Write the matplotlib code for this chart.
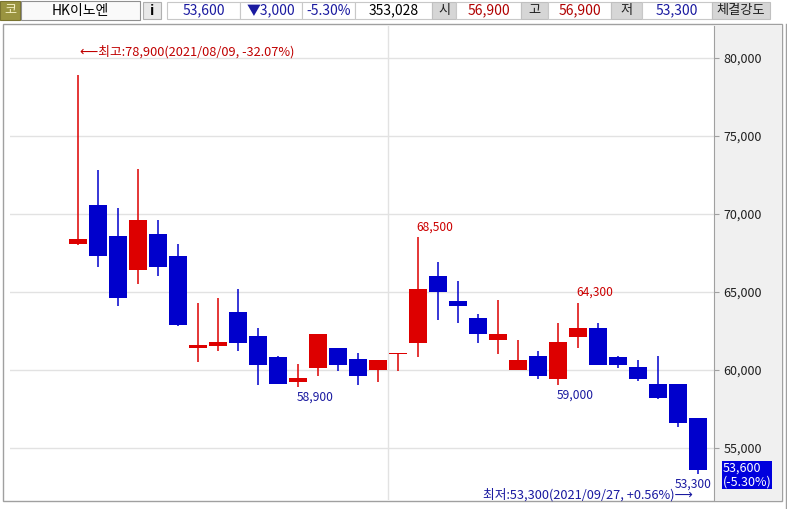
import matplotlib
matplotlib.use('Agg')
import matplotlib.pyplot as plt
from matplotlib.patches import Rectangle
from matplotlib.ticker import FuncFormatter

plt.rcParams['font.family'] = ['Noto Sans CJK KR', 'DejaVu Sans']

# daily candles, HK이노엔, 2021/08/09 - 2021/09/27
dates = ['08/09', '08/10', '08/11', '08/12', '08/13', '08/17', '08/18', '08/19',
         '08/20', '08/23', '08/24', '08/25', '08/26', '08/27', '08/30', '08/31',
         '09/01', '09/02', '09/03', '09/06', '09/07', '09/08', '09/09', '09/10',
         '09/13', '09/14', '09/15', '09/16', '09/17', '09/23', '09/24', '09/27']
opens = [68100, 70600, 68600, 66400, 68700, 67300, 61400, 61500, 63700, 62200, 60800,
         59200, 60100, 61400, 60700, 60000, 61000, 61700, 66000, 64400, 63300, 61900,
         60000, 60900, 59400, 62100, 62700, 60800, 60200, 59100, 59100, 56900]
highs = [78900, 72800, 70400, 72900, 69600, 68100, 64300, 64600, 65200, 62700, 60900,
         60400, 62300, 61400, 61100, 60600, 61000, 68500, 66900, 65700, 63600, 64500,
         61900, 61200, 63000, 64300, 63000, 60900, 60600, 60900, 59100, 56900]
lows = [68000, 66600, 64100, 65500, 66000, 62800, 60500, 61200, 61200, 59000, 59100,
        58900, 59600, 59900, 59000, 59200, 59900, 60800, 63200, 63000, 61700, 61000,
        60000, 59400, 59000, 61400, 60300, 60100, 59300, 58100, 56300, 53300]
closes = [68400, 67300, 64600, 69600, 66600, 62900, 61600, 61800, 61700, 60300, 59100,
          59500, 62300, 60300, 59600, 60600, 61000, 65200, 65000, 64100, 62300, 62300,
          60600, 59600, 61800, 62700, 60300, 60300, 59400, 58200, 56600, 53600]

high_marks = [17, 25]
low_marks = [11, 24, 31]

header = [
    ('53,600', '#1A1AA0'), ('▼3,000', '#1A1AA0'), ('-5.30%', '#1A1AA0'), ('353,028', '#000000'),
    ('시', None), ('56,900', '#B00000'), ('고', None), ('56,900', '#B00000'),
    ('저', None), ('53,300', '#1A1AA0'), ('체결강도', None),
]
header_x = [167, 240, 302, 355, 432, 456, 521, 548, 611, 642, 712, 770]

RED = '#DD0000'
BLUE = '#0000CC'

fig = plt.figure(figsize=(7.87, 5.09), dpi=100)

# window frame / header drawn in pixel coordinates
ui = fig.add_axes([0, 0, 1, 1])
ui.set_xlim(0, 787)
ui.set_ylim(509, 0)
ui.axis('off')


def box(x0, y0, x1, y1, fc, ec='#A8A8A8', lw=0.8):
    ui.add_patch(Rectangle((x0, y0), x1 - x0, y1 - y0, facecolor=fc, edgecolor=ec, lw=lw))


box(0, 1, 20, 20, '#9A9440', ec='#7A7430')
ui.text(10, 10.5, '코', color='#F4F0C0', fontsize=9.5, ha='center', va='center')
box(21, 1, 140, 20, '#FAFAFA', ec='#909090')
ui.text(80, 10.5, 'HK이노엔', fontsize=10, ha='center', va='center')
box(143, 2, 161, 19, '#E8E8E8', ec='#B0B0B0')
ui.text(152, 10.5, 'i', fontsize=10, fontweight='bold', ha='center', va='center')
for (txt, col), x0, x1 in zip(header, header_x[:-1], header_x[1:]):
    if col is None:
        box(x0, 2, x1, 19, '#D6D6D6', ec='#C0C0C0')
        ui.text((x0 + x1) / 2, 10.5, txt, fontsize=9.5, color='#202020', ha='center', va='center')
    else:
        box(x0, 2, x1, 19, 'white', ec='#C8C8C8')
        ui.text((x0 + x1) / 2, 10.5, txt, fontsize=10, color=col, ha='center', va='center')

# chart panel
box(3, 24, 782, 501, 'white', ec='#A0A0A0', lw=1.0)
ui.plot([786, 786], [24, 509], color='#A0A0A0', lw=1.0)
box(715, 25, 782, 500, '#F0F0F0', ec='none', lw=0)
box(11, 31, 20, 35, '#C8C8C8', ec='#B0B0B0', lw=0.5)
ui.text(24, 37, '▮가격차트', fontsize=9.5, ha='left', va='center')
box(696, 32, 702, 37, '#E0E0E0', ec='#A0A0A0', lw=0.5)
box(705, 32, 711, 37, '#E0E0E0', ec='#A0A0A0', lw=0.5)

# price box on the axis panel
box(722, 461, 772, 489, '#0000DD', ec='none', lw=0)
ui.text(723, 468, '53,600', color='white', fontsize=9, ha='left', va='center')
ui.text(723, 482, '(-5.30%)', color='white', fontsize=9, ha='left', va='center')

# candle chart
ax = fig.add_axes([10 / 787, 9 / 509, 704 / 787, 474 / 509])
ax.set_zorder(2)
ax.set_facecolor('white')

xs = list(range(len(dates)))
cols = [RED if c >= o else BLUE for o, c in zip(opens, closes)]
bottoms = [min(o, c) for o, c in zip(opens, closes)]
heights = [max(abs(c - o), 70) for o, c in zip(opens, closes)]

for v in range(55000, 85000, 5000):
    ax.axhline(v, color='#E2E2E2', lw=1, zorder=0)
month_break = next(i for i in range(1, len(dates)) if dates[i][:2] != dates[i - 1][:2])
ax.axvline(month_break - 0.5, color='#E2E2E2', lw=1, zorder=0)

ax.vlines(xs, lows, highs, colors=cols, lw=1.1, zorder=2)
ax.bar(xs, heights, bottom=bottoms, width=0.93, color=cols, lw=0, zorder=3)

for i in high_marks:
    ax.annotate(f'{highs[i]:,}', (i, highs[i]), xytext=(-1, 7.5), textcoords='offset points',
                ha='left', va='center', fontsize=8.7, color='#CC0000')
for i in low_marks:
    ha = 'right' if i == len(dates) - 1 else 'left'
    dx = 10 if i == len(dates) - 1 else -1
    ax.annotate(f'{lows[i]:,}', (i, lows[i]), xytext=(dx, -7), textcoords='offset points',
                ha=ha, va='center', fontsize=8.7, color='#1A1AA0')

imax = highs.index(max(highs))
imin = lows.index(min(lows))
last = closes[-1]
ax.annotate(f'⟵최고:{highs[imax]:,}(2021/{dates[imax]}, {(last / highs[imax] - 1) * 100:+.2f}%)',
            (imax, highs[imax]), xytext=(1.2, 17), textcoords='offset points',
            ha='left', va='center', fontsize=9.2, color='#C00000')
ax.annotate(f'최저:{lows[imin]:,}(2021/{dates[imin]}, {(last / lows[imin] - 1) * 100:+.2f}%)⟶',
            (imin, lows[imin]), xytext=(-4, -15), textcoords='offset points',
            ha='right', va='center', fontsize=9.2, color='#1A1AA0')

ax.set_xlim(-3.4, 31.8)
ax.set_ylim(51650, 82050)
ax.set_xticks([])
ax.set_yticks(range(55000, 85000, 5000))
ax.yaxis.tick_right()
ax.yaxis.set_major_formatter(FuncFormatter(lambda v, p: f'{int(v):,}'))
ax.tick_params(axis='y', direction='out', length=3.6, width=0.8, color='#A0A0A0',
               pad=3, labelsize=9, labelcolor='#202020')
for s in ['top', 'left', 'bottom']:
    ax.spines[s].set_visible(False)
ax.spines['right'].set_color('#A0A0A0')
ax.spines['right'].set_linewidth(0.8)

fig.savefig('out.png', dpi=100)
